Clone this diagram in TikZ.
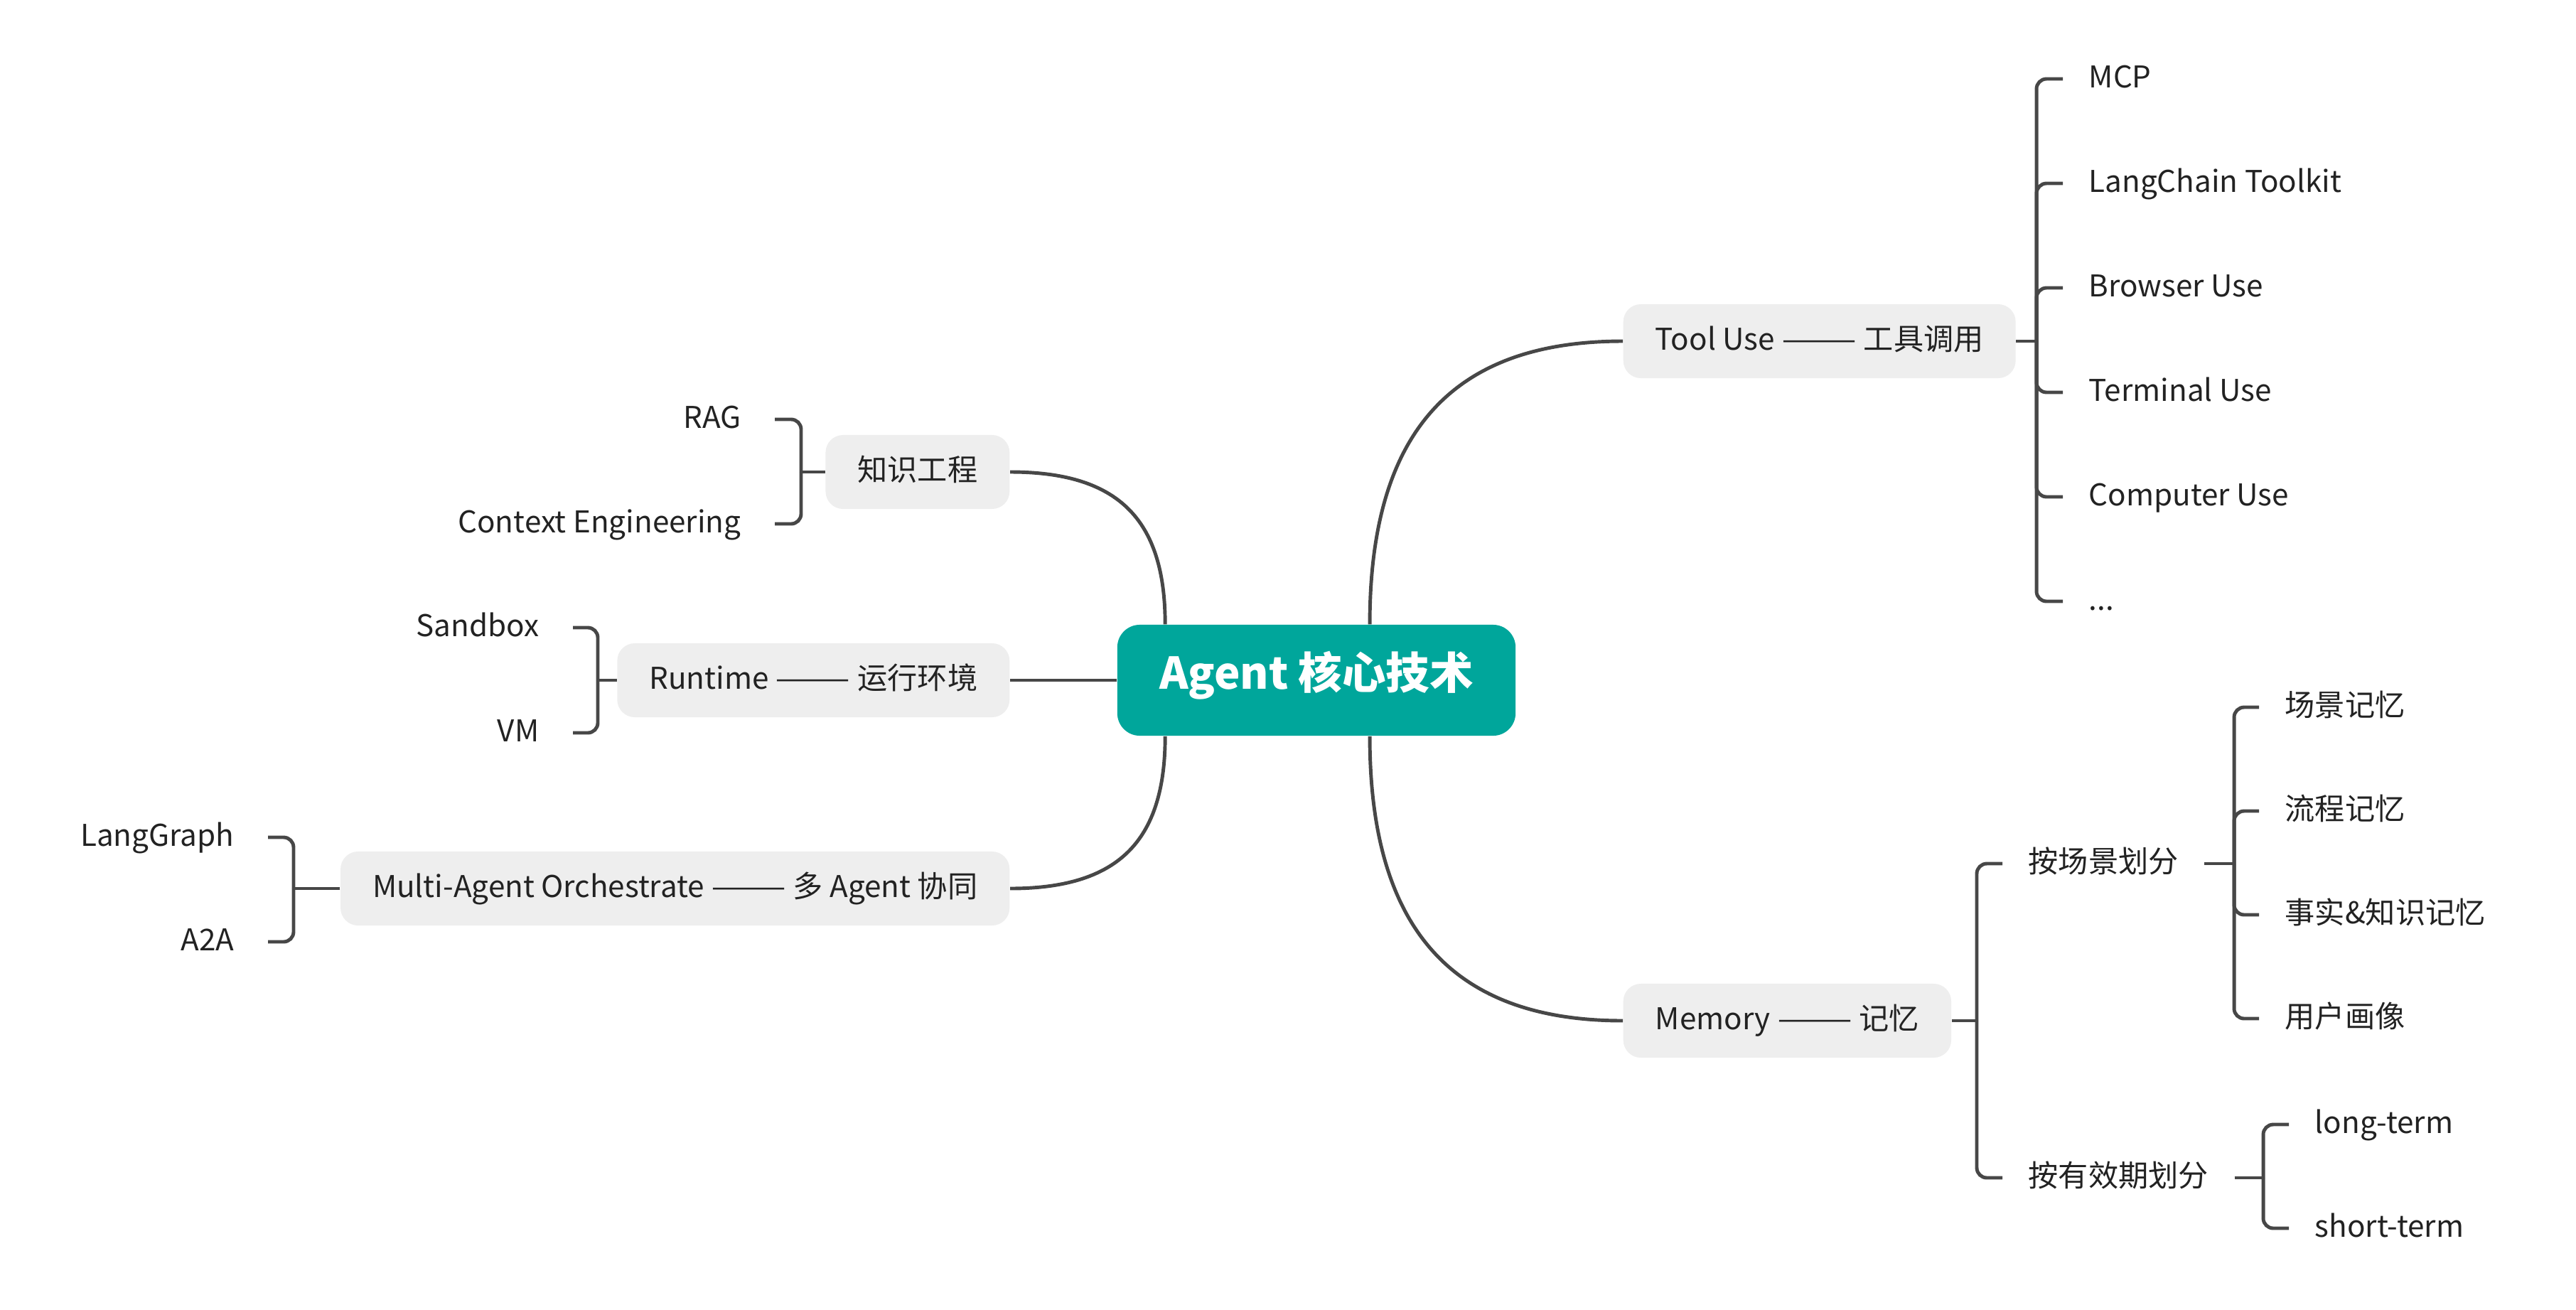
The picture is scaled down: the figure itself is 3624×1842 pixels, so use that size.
\documentclass[tikz,border=0pt]{standalone}
\usepackage{graphicx}
\usepackage{fontspec}
\setmainfont{Noto Sans CJK SC}
\newcommand\twodash{\scalebox{1.5}[1]{——}}
\definecolor{agentteal}{HTML}{00A69B}
\definecolor{boxgray}{HTML}{EEEEEE}
\definecolor{linegray}{HTML}{474747}
\definecolor{textgray}{HTML}{222222}
\begin{document}
\begin{tikzpicture}[x=0.01cm, y=-0.01cm,
    conn/.style={draw=linegray, line width=1.4pt},
    bracket/.style={conn, rounded corners=4pt},
    topic/.style={fill=boxgray, rounded corners=7pt, minimum height=1.04cm, inner xsep=0.45cm,
        text height=0.9em, text depth=0.2em, text=textgray, font=\fontsize{12}{14}\selectfont},
    leaf/.style={inner xsep=0.36cm, inner ysep=0pt, text height=0.9em, text depth=0.2em,
        text=textgray, font=\fontsize{12}{14}\selectfont},
    lleaf/.style={leaf, inner xsep=0.47cm}]
    \useasboundingbox (0,0) rectangle (3624,1842);
    \node[fill=agentteal, rounded corners=9pt, minimum height=1.56cm, minimum width=5.6cm, text=white,
        text height=0.9em, text depth=0.2em, font=\fontsize{17.5}{20}\selectfont\bfseries] (root) at (1852,957) {Agent 核心技术};
    \node[topic, anchor=west] (tool) at (2283,480) {Tool Use \twodash{} 工具调用};
    \node[topic, anchor=west] (mem) at (2283,1436) {Memory \twodash{} 记忆};
    \node[topic, anchor=east] (know) at (1421,664) {知识工程};
    \node[topic, anchor=east] (run) at (1421,957) {Runtime \twodash{} 运行环境};
    \node[topic, anchor=east] (multi) at (1421,1250) {Multi-Agent Orchestrate \twodash{} 多 Agent 协同};
    \draw[conn] ([xshift=0.75cm]root.north) .. controls +(0,-265) and +(-245,0) .. (tool.west);
    \draw[conn] ([xshift=0.75cm]root.south) .. controls +(0,265) and +(-245,0) .. (mem.west);
    \draw[conn] ([xshift=0.68cm]root.north west) .. controls +(0,-150) and +(150,0) .. (know.east);
    \draw[conn] (root.west) -- (run.east);
    \draw[conn] ([xshift=0.68cm]root.south west) .. controls +(0,150) and +(150,0) .. (multi.east);
    \coordinate (jt) at (2865,480);
    \coordinate (jm) at (2781,1436);
    \coordinate (js) at (3143,1215);
    \coordinate (jv) at (3184,1657);
    \coordinate (jk) at (1127,664);
    \coordinate (jr) at (841,957);
    \coordinate (ja) at (413,1250);
    \foreach \n/\y/\t in {mcp/111/MCP, lct/258/LangChain Toolkit, bru/405/Browser Use,
        teu/552/Terminal Use, cou/699/Computer Use} {
        \node[leaf, anchor=west] (\n) at (2902,\y) {\t};
        \draw[bracket] (jt) |- (\n.west);
    }
    \node[leaf, anchor=west] (more) at (2902,846) {.{}.{}.};
    \draw[bracket] (jt) |- (more.west);
    \draw[conn] (tool.east) -- (jt);
    \node[leaf, anchor=west] (scene) at (2817,1215) {按场景划分};
    \node[leaf, anchor=west] (valid) at (2817,1657) {按有效期划分};
    \draw[conn] (mem.east) -- (jm);
    \draw[bracket] (jm) |- (scene.west);
    \draw[bracket] (jm) |- (valid.west);
    \foreach \n/\y/\t in {scm/995/场景记忆, prm/1141/流程记忆, fkm/1287/事实\&知识记忆, upr/1433/用户画像} {
        \node[leaf, anchor=west] (\n) at (3178,\y) {\t};
        \draw[bracket] (js) |- (\n.west);
    }
    \draw[conn] (scene.east) -- (js);
    \foreach \n/\y/\t in {lterm/1582/long-term, sterm/1728/short-term} {
        \node[leaf, anchor=west] (\n) at (3220,\y) {\t};
        \draw[bracket] (jv) |- (\n.west);
    }
    \draw[conn] (valid.east) -- (jv);
    \foreach \n/\y/\t in {rag/590/RAG, ctx/737/Context Engineering} {
        \node[lleaf, anchor=east] (\n) at (1090,\y) {\t};
        \draw[bracket] (jk) |- (\n.east);
    }
    \draw[conn] (know.west) -- (jk);
    \foreach \n/\y/\t in {sbx/883/Sandbox, vm/1031/VM} {
        \node[lleaf, anchor=east] (\n) at (806,\y) {\t};
        \draw[bracket] (jr) |- (\n.east);
    }
    \draw[conn] (run.west) -- (jr);
    \foreach \n/\y/\t in {lgr/1178/LangGraph, ata/1325/A2A} {
        \node[lleaf, anchor=east] (\n) at (377,\y) {\t};
        \draw[bracket] (ja) |- (\n.east);
    }
    \draw[conn] (multi.west) -- (ja);
\end{tikzpicture}
\end{document}
